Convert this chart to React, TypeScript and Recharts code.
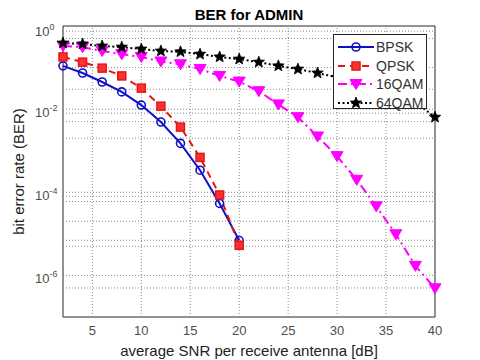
import { LineChart, Line, XAxis, YAxis, ReferenceLine, ReferenceArea, Legend, Label } from "recharts";

// SNR in dB, one point every 2 dB
const snr = [2, 4, 6, 8, 10, 12, 14, 16, 18, 20, 22, 24, 26, 28, 30, 32, 34, 36, 38, 40];

// BER (BPSK / QPSK stop at 20 dB)
const bpsk = [0.11, 0.074, 0.045, 0.026, 0.0125, 0.0049, 0.0015, 3.4e-4, 5.4e-5, 6.9e-6];
const qpsk = [0.18, 0.135, 0.097, 0.063, 0.032, 0.0118, 0.0037, 6.9e-4, 8.6e-5, 5.3e-6];
const qam16 = [
  0.33, 0.31, 0.25, 0.21, 0.18, 0.14, 0.12, 0.092, 0.063, 0.046,
  0.027, 0.013, 0.0064, 0.0022, 7.4e-4, 2.0e-4, 4.6e-5, 9.8e-6, 1.7e-6, 4.9e-7,
];
const qam64 = [
  0.39, 0.37, 0.33, 0.31, 0.28, 0.25, 0.24, 0.21, 0.18, 0.16,
  0.135, 0.11, 0.092, 0.074, 0.058, 0.043, 0.03, 0.022, 0.015, 0.0064,
];

const xTicks = [5, 10, 15, 20, 25, 30, 35, 40];
const yTicks = [1e-6, 1e-4, 1e-2, 1];
const xGrid = [5, 10, 15, 20, 25, 30, 35];
// the grid lines that are visible in the picture (minor grid is partly lost)
const yGrid = [
  0.75, 0.5, 0.1, 0.03, 0.01, 0.008, 0.005, 0.002,
  1e-4, 8e-5, 6e-5, 2e-5, 7e-6, 5e-6, 1e-6, 5e-7,
];

const data = snr.map((x, i) => ({
  snr: x,
  bpsk: bpsk[i] ?? null,
  qpsk: qpsk[i] ?? null,
  qam16: qam16[i] ?? null,
  qam64: qam64[i] ?? null,
}));

type MarkerKind = "circle" | "square" | "tri" | "star";

const SERIES: { key: string; name: string; color: string; dash?: string; marker: MarkerKind }[] = [
  { key: "bpsk", name: "BPSK", color: "#1010c8", marker: "circle" },
  { key: "qpsk", name: "QPSK", color: "#e01818", dash: "7 5", marker: "square" },
  { key: "qam16", name: "16QAM", color: "#ff00ff", dash: "9 4 2 4", marker: "tri" },
  { key: "qam64", name: "64QAM", color: "#000000", dash: "2 2.5", marker: "star" },
];

const FONT = "'Liberation Sans', Arial, sans-serif";

function starPath(cx: number, cy: number, R: number, r: number) {
  const pts: string[] = [];
  for (let k = 0; k < 10; k++) {
    const rad = k % 2 === 0 ? R : r;
    const a = -Math.PI / 2 + (k * Math.PI) / 5;
    pts.push(`${(cx + rad * Math.cos(a)).toFixed(2)},${(cy + rad * Math.sin(a)).toFixed(2)}`);
  }
  return `M${pts.join("L")}Z`;
}

function Marker({ kind, cx, cy, color }: { kind: MarkerKind; cx: number; cy: number; color: string }) {
  if (kind === "circle")
    return <circle cx={cx} cy={cy} r={4} fill="none" stroke={color} strokeWidth={1.6} />;
  if (kind === "square")
    return <rect x={cx - 4} y={cy - 4} width={8} height={8} fill="#ff3030" stroke={color} strokeWidth={1.5} />;
  if (kind === "tri")
    return (
      <path
        d={`M${cx - 6},${cy - 4.5} L${cx + 6},${cy - 4.5} L${cx},${cy + 5.5} Z`}
        fill={color}
        stroke={color}
        strokeWidth={1}
      />
    );
  return <path d={starPath(cx, cy, 6, 2.6)} fill={color} stroke={color} strokeWidth={0.8} />;
}

function makeDot(kind: MarkerKind, color: string) {
  return (props: { cx?: number; cy?: number; value?: number | null; index?: number }) => {
    const { cx, cy, value, index } = props;
    if (cx == null || cy == null || value == null) return <g key={index} />;
    return (
      <g key={index}>
        <Marker kind={kind} cx={cx} cy={cy} color={color} />
      </g>
    );
  };
}

function YTick(props: { x?: number; y?: number; payload?: { value: number } }) {
  const { y, payload } = props;
  if (y == null || !payload) return null;
  const exp = Math.round(Math.log10(payload.value));
  return (
    <text x={35} y={y + (exp === 0 ? 10 : 7.5)} fill="#4d4d4d" fontSize={13} fontFamily={FONT}>
      10
      <tspan dy={-6} fontSize={9}>
        {exp === 0 ? "0" : `-${-exp}`}
      </tspan>
    </text>
  );
}

function LegendBox() {
  return (
    <div
      style={{
        width: 94,
        height: 75,
        boxSizing: "border-box",
        border: "1px solid #262626",
        background: "#fff",
        paddingTop: 3,
        fontFamily: FONT,
      }}
    >
      {SERIES.map((s) => (
        <div key={s.key} style={{ display: "flex", alignItems: "center", height: 18.5 }}>
          <svg width={41} height={18} style={{ display: "block", marginLeft: 1 }}>
            <line x1={3} y1={9} x2={39} y2={9} stroke={s.color} strokeWidth={2} strokeDasharray={s.dash} />
            <Marker kind={s.marker} cx={21} cy={9} color={s.color} />
          </svg>
          <span style={{ fontSize: 14, color: "#333", marginLeft: 0 }}>{s.name}</span>
        </div>
      ))}
    </div>
  );
}

export default function App() {
  return (
    <div style={{ position: "absolute", left: 0, top: 0, width: 480, height: 360, background: "#fff" }}>
      <div
        style={{
          position: "absolute",
          top: 6,
          left: 63,
          width: 372,
          textAlign: "center",
          fontFamily: FONT,
          fontWeight: "bold",
          fontSize: 15,
          color: "#000",
        }}
      >
        BER for ADMIN
      </div>
      <LineChart width={480} height={360} data={data} margin={{ top: 26, right: 45, bottom: 0, left: 0 }}>
        <XAxis
          dataKey="snr"
          type="number"
          domain={[2, 40]}
          ticks={xTicks}
          axisLine={false}
          tickLine={false}
          height={43}
          tick={{ fill: "#4d4d4d", fontSize: 13, fontFamily: FONT }}
          tickMargin={3}
        >
          <Label
            value="average SNR per receive antenna [dB]"
            position="insideBottom"
            offset={4}
            style={{ fill: "#222", fontSize: 15, fontFamily: FONT }}
          />
        </XAxis>
        <YAxis
          type="number"
          scale="log"
          domain={[1e-7, 1]}
          allowDataOverflow
          ticks={yTicks}
          axisLine={false}
          tickLine={false}
          width={63}
          tick={YTick}
        >
          <Label
            value="bit error rate (BER)"
            angle={-90}
            position="insideLeft"
            offset={19}
            style={{ fill: "#222", fontSize: 15, fontFamily: FONT, textAnchor: "middle" }}
          />
        </YAxis>

        {yGrid.map((v) => (
          <ReferenceLine key={`h${v}`} y={v} stroke="#8a8a8a" strokeDasharray="1 2" strokeWidth={1} />
        ))}
        {xGrid.map((v) => (
          <ReferenceLine key={`v${v}`} x={v} stroke="#8a8a8a" strokeDasharray="1 2" strokeWidth={1} />
        ))}

        {SERIES.map((s) => (
          <Line
            key={s.key}
            dataKey={s.key}
            name={s.name}
            type="linear"
            stroke={s.color}
            strokeWidth={2}
            strokeDasharray={s.dash}
            dot={makeDot(s.marker, s.color)}
            activeDot={false}
            isAnimationActive={false}
            connectNulls={false}
          />
        ))}

        {/* axes box */}
        <ReferenceArea x1={2} x2={40} y1={1e-7} y2={1} fill="none" stroke="#262626" strokeWidth={1} />

        <Legend
          layout="horizontal"
          verticalAlign="middle"
          align="center"
          content={LegendBox}
          wrapperStyle={{ position: "absolute", left: 333, top: 34, width: 94, height: 75 }}
        />
      </LineChart>
    </div>
  );
}
